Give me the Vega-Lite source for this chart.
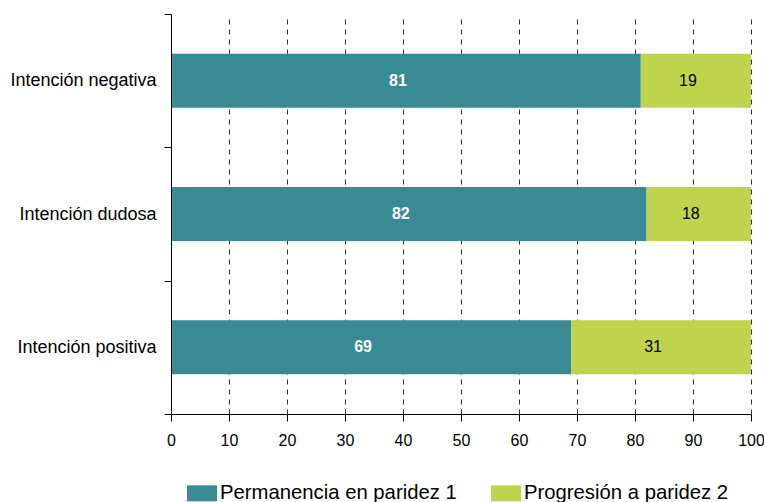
{
  "$schema": "https://vega.github.io/schema/vega-lite/v6.json",
  "width": 580,
  "height": 400,
  "autosize": {"type": "none"},
  "padding": {"left": 171, "top": 14, "right": 13, "bottom": 88},
  "background": "white",
  "config": {
    "font": "Liberation Sans",
    "view": {"stroke": null}
  },
  "data": {
    "values": [
      {"intencion": "Intención negativa", "serie": "Permanencia en paridez 1", "valor": 81},
      {"intencion": "Intención negativa", "serie": "Progresión a paridez 2", "valor": 19},
      {"intencion": "Intención dudosa", "serie": "Permanencia en paridez 1", "valor": 82},
      {"intencion": "Intención dudosa", "serie": "Progresión a paridez 2", "valor": 18},
      {"intencion": "Intención positiva", "serie": "Permanencia en paridez 1", "valor": 69},
      {"intencion": "Intención positiva", "serie": "Progresión a paridez 2", "valor": 31}
    ]
  },
  "transform": [
    {
      "stack": "valor",
      "groupby": ["intencion"],
      "sort": [{"field": "serie", "order": "ascending"}],
      "as": ["inicio", "fin"]
    }
  ],
  "encoding": {
    "y": {
      "field": "intencion",
      "type": "nominal",
      "sort": ["Intención negativa", "Intención dudosa", "Intención positiva"],
      "scale": {"paddingInner": 0, "paddingOuter": 0},
      "axis": {
        "title": null,
        "zindex": 1,
        "grid": false,
        "tickBand": "extent",
        "tickSize": 7,
        "tickColor": "#000000",
        "domainColor": "#000000",
        "labelColor": "#000000",
        "labelFontSize": 18,
        "labelPadding": 8
      }
    }
  },
  "layer": [
    {
      "mark": {"type": "bar", "height": {"band": 0.405}},
      "encoding": {
        "x": {
          "field": "inicio",
          "type": "quantitative",
          "scale": {"domain": [0, 100], "nice": false},
          "axis": {
            "title": null,
            "values": [0, 10, 20, 30, 40, 50, 60, 70, 80, 90, 100],
            "grid": true,
            "gridDash": [5, 5],
            "gridColor": "#333333",
            "gridOpacity": 1,
            "tickSize": 7,
            "tickColor": "#000000",
            "domainColor": "#000000",
            "labelColor": "#000000",
            "labelFontSize": 16,
            "labelPadding": 11,
            "labelFlush": false
          }
        },
        "x2": {"field": "fin"},
        "color": {
          "field": "serie",
          "type": "nominal",
          "scale": {
            "domain": ["Permanencia en paridez 1", "Progresión a paridez 2"],
            "range": ["#3A8A96", "#BFD44C"]
          },
          "legend": {
            "title": null,
            "orient": "none",
            "direction": "horizontal",
            "legendX": 16,
            "legendY": 464,
            "padding": 0,
            "symbolType": "M-1,-0.533H1V0.533H-1Z",
            "symbolSize": 900,
            "symbolStrokeWidth": 0,
            "symbolOpacity": 1,
            "labelFontSize": 20.3,
            "labelLimit": 0,
            "labelColor": "#000000",
            "labelOffset": 3,
            "columnPadding": 34
          }
        }
      }
    },
    {
      "mark": {"type": "text", "color": "white", "fontWeight": "bold", "fontSize": 16, "dx": -8, "baseline": "middle"},
      "transform": [
        {"filter": "datum.serie === 'Permanencia en paridez 1'"},
        {"fold": ["inicio", "fin"], "as": ["extremo", "posicion"]},
        {"aggregate": [{"op": "mean", "field": "posicion", "as": "centro"}], "groupby": ["intencion", "valor"]}
      ],
      "encoding": {
        "x": {"field": "centro", "type": "quantitative"},
        "text": {"field": "valor", "type": "quantitative"}
      }
    },
    {
      "mark": {"type": "text", "color": "black", "fontSize": 16, "dx": -8, "baseline": "middle"},
      "transform": [
        {"filter": "datum.serie === 'Progresión a paridez 2'"},
        {"fold": ["inicio", "fin"], "as": ["extremo", "posicion"]},
        {"aggregate": [{"op": "mean", "field": "posicion", "as": "centro"}], "groupby": ["intencion", "valor"]}
      ],
      "encoding": {
        "x": {"field": "centro", "type": "quantitative"},
        "text": {"field": "valor", "type": "quantitative"}
      }
    }
  ]
}
